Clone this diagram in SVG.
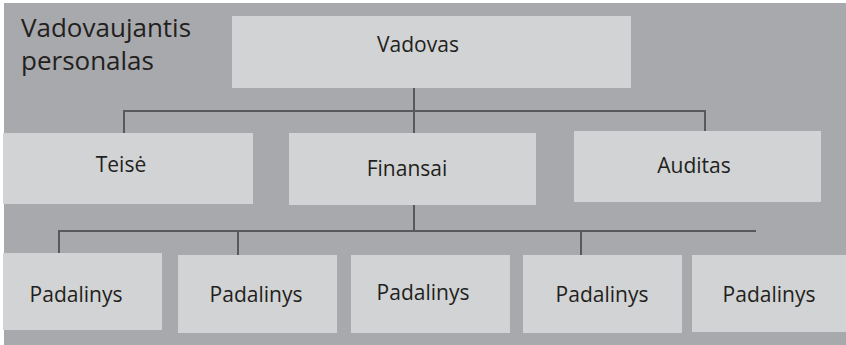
<svg xmlns="http://www.w3.org/2000/svg" width="846" height="345" viewBox="0 0 846 345">
<style>
.box{fill:#d1d3d4}
.lbl{font-family:"Open Sans","Noto Sans",sans-serif;font-size:21px;fill:#231f20;text-anchor:middle}
.title{font-family:"Open Sans","Noto Sans",sans-serif;font-size:26px;fill:#231f20}
.conn{stroke:#58595b;stroke-width:2;fill:none}
</style>
<rect x="4" y="3" width="842" height="342" fill="#a7a9ac"/>
<text class="title" x="21" y="37">Vadovaujantis</text>
<text class="title" x="21" y="70">personalas</text>
<g id="connectors" class="conn">
<path d="M414 88V232"/>
<path d="M124 133V111H705V131"/>
<path d="M59 253V231H756"/>
<path d="M238 231V255"/>
<path d="M581 231V255"/>
</g>
<g id="vadovas"><rect class="box" x="232" y="16" width="399" height="72"/><text class="lbl" x="418" y="52">Vadovas</text></g>
<g id="teise"><rect class="box" x="3" y="133" width="250" height="71"/><text class="lbl" x="121" y="172">Teisė</text></g>
<g id="finansai"><rect class="box" x="289" y="133" width="247" height="72"/><text class="lbl" x="407" y="176">Finansai</text></g>
<g id="auditas"><rect class="box" x="574" y="131" width="247" height="71"/><text class="lbl" x="694" y="173">Auditas</text></g>
<g id="padalinys1"><rect class="box" x="3" y="253" width="159" height="77"/><text class="lbl" x="76" y="302">Padalinys</text></g>
<g id="padalinys2"><rect class="box" x="178" y="255" width="159" height="78"/><text class="lbl" x="256" y="302">Padalinys</text></g>
<g id="padalinys3"><rect class="box" x="351" y="255" width="159" height="78"/><text class="lbl" x="423" y="300">Padalinys</text></g>
<g id="padalinys4"><rect class="box" x="523" y="255" width="159" height="78"/><text class="lbl" x="602" y="302">Padalinys</text></g>
<g id="padalinys5"><rect class="box" x="692" y="255" width="154" height="77"/><text class="lbl" x="769" y="302">Padalinys</text></g>
</svg>
